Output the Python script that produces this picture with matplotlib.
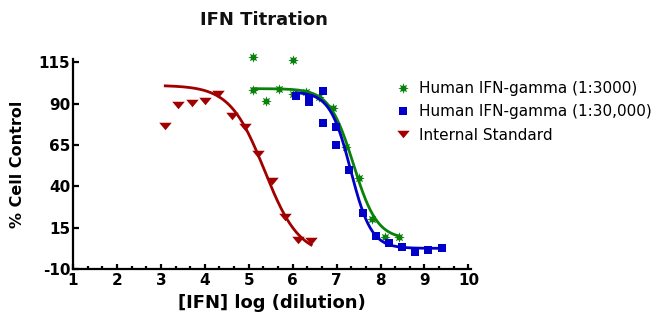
import matplotlib
matplotlib.use("Agg")
import matplotlib.pyplot as plt
import numpy as np
from matplotlib.ticker import MultipleLocator

plt.rcParams["axes.unicode_minus"] = False

# log(dilution) and % cell control
green_x = [5.10, 5.10, 5.40, 5.70, 6.01, 6.01, 6.31, 6.61, 6.91, 7.21, 7.51, 7.81, 8.11, 8.41]
green_y = [118, 98, 91.5, 98.5, 116, 96, 97, 94, 87.5, 64, 45, 20.5, 9.5, 9.5]

blue_x = [6.08, 6.38, 6.38, 6.68, 6.68, 6.99, 6.99, 7.29, 7.59, 7.89, 8.19, 8.49, 8.79, 9.09, 9.39]
blue_y = [94.5, 93.6, 91.0, 97.5, 78.0, 75.6, 64.9, 50.0, 23.6, 10.0, 6.0, 3.5, 0.5, 1.5, 3.0]

red_x = [3.10, 3.40, 3.71, 4.00, 4.31, 4.61, 4.91, 5.21, 5.52, 5.82, 6.12, 6.42]
red_y = [76.5, 88.9, 90.1, 91.4, 95.7, 82.4, 75.9, 59.4, 43.3, 21.2, 7.5, 6.7]

# four-parameter logistic fits: bottom, top, logEC50, hill slope
green_fit = (8.0, 99.0, 7.38, 1.6)
blue_fit = (2.5, 97.0, 7.32, 1.85)
red_fit = (-2.0, 101.0, 5.36, 1.1)

labels = ["Human IFN-gamma (1:3000)", "Human IFN-gamma (1:30,000)", "Internal Standard"]
x_ticks = [1, 2, 3, 4, 5, 6, 7, 8, 9, 10]
y_ticks = [-10, 15, 40, 65, 90, 115]

GREEN = "#0a820a"
BLUE = "#0000c8"
RED = "#a00000"


def logistic(x, params):
    bottom, top, x50, hill = params
    return bottom + (top - bottom) / (1 + 10 ** ((x - x50) * hill))


fig = plt.figure(figsize=(6.54, 3.18), dpi=100)
ax = fig.add_axes([0.1116, 0.154, 0.608, 0.661])

star = (8, 1, 0)
flat_tri = [(-1, 0.6), (1, 0.6), (0, -0.6), (-1, 0.6)]
for xs, ys, fit, color, marker, size, label in [
    (green_x, green_y, green_fit, GREEN, star, 7.5, labels[0]),
    (blue_x, blue_y, blue_fit, BLUE, "s", 5.8, labels[1]),
    (red_x, red_y, red_fit, RED, flat_tri, 9, labels[2]),
]:
    ax.plot(xs, ys, linestyle="none", marker=marker, markersize=size,
            color=color, markeredgewidth=0, label=label, clip_on=False)
    xx = np.linspace(min(xs), max(xs), 200)
    ax.plot(xx, logistic(xx, fit), color=color, linewidth=2.0)

ax.set_xlim(1, 10.05)
ax.set_ylim(-10, 117)
ax.set_xticks(x_ticks)
ax.set_yticks(y_ticks)
ax.xaxis.set_minor_locator(MultipleLocator(1 / 3))

for side in ("top", "right"):
    ax.spines[side].set_visible(False)
for side in ("left", "bottom"):
    ax.spines[side].set_linewidth(1.6)
    ax.spines[side].set_color("black")

ax.tick_params(axis="x", which="major", direction="in", length=3.5, width=1.6, pad=3,
               labelsize=11)
ax.tick_params(axis="x", which="minor", direction="in", length=2.5, width=1.6)
ax.tick_params(axis="y", which="major", direction="in", length=4.5, width=1.6, pad=2,
               labelsize=11)
for lab in ax.get_xticklabels() + ax.get_yticklabels():
    lab.set_fontweight("bold")

ax.set_xlabel("[IFN] log (dilution)", fontsize=13, fontweight="bold", labelpad=4)
ax.set_ylabel("% Cell Control", fontsize=11.5, fontweight="bold", labelpad=10)

fig.text(264 / 654, 1 - 20 / 318, "IFN Titration", ha="center", va="center",
         fontsize=13, fontweight="bold", color="#111111")

fig.legend(loc="upper left", bbox_to_anchor=(396 / 654, 1 - 81 / 318),
           frameon=False, fontsize=11, handlelength=0.9, handletextpad=0.6,
           labelspacing=0.55, borderpad=0, borderaxespad=0)

fig.savefig("out.png", dpi=100)
